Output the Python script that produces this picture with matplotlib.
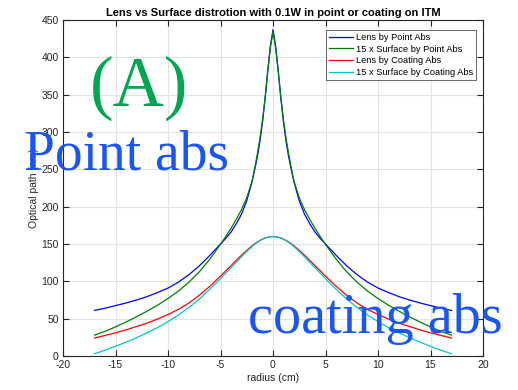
import numpy as np
import matplotlib.pyplot as plt

plt.rcParams['font.family'] = ['Liberation Sans', 'DejaVu Sans']
plt.rcParams['axes.unicode_minus'] = False

# radius samples (cm), one side of the profile, mirrored below
r_half = [0, 0.25, 0.5, 0.75, 1, 1.25, 1.5, 1.75, 2, 2.5, 3, 3.5, 4, 4.5, 5,
          6, 7, 8, 9, 10, 11, 12, 13, 14, 15, 16, 17]

# optical path (nm)
lens_point = [437, 415, 382, 345, 313, 287, 266, 249, 233, 208, 190, 177, 166, 157.5, 150,
              135, 121, 109, 99, 91, 85, 79.5, 75, 71, 67.5, 64, 61]
surf_point = [434, 413, 381, 346, 316, 291, 270, 251, 234, 212, 196, 183, 171, 160, 149.5,
              130, 113, 99, 87, 77, 68, 60, 52.5, 45.5, 39, 33, 28]
lens_coat = [160, 159.8, 159, 158, 156.5, 154.7, 152.5, 150.2, 147.5, 141.5, 135, 128, 121, 114, 107,
             93.5, 81.5, 71, 62.5, 55.5, 49.5, 44, 39.5, 35, 31, 27.5, 24]
surf_coat = [160, 159.8, 159, 158, 156.5, 154.5, 152, 149.5, 146.5, 140, 133, 125.5, 118, 111, 103.5,
             89.5, 76.5, 65, 55, 46, 38, 31, 24.5, 18.5, 13, 7.8, 3]

labels = ['Lens by Point Abs', '15 x Surface by Point Abs',
          'Lens by Coating Abs', '15 x Surface by Coating Abs']
colors = ['#0000ff', '#008000', '#ff0000', '#00c8c8']


def full(vals):
    v = np.array(vals, dtype=float)
    return np.concatenate([v[:0:-1], v])


r = np.array(r_half, dtype=float)
r = np.concatenate([-r[:0:-1], r])

fig = plt.figure(figsize=(5.18, 3.9), dpi=100)
ax = fig.add_axes([63/518, 34/390, 420/518, 336/390])

for vals, c, lab in zip([lens_point, surf_point, lens_coat, surf_coat], colors, labels):
    ax.plot(r, full(vals), color=c, lw=0.9, label=lab)

ax.set_xlim(-20, 20)
ax.set_ylim(0, 450)
ax.set_xticks(np.arange(-20, 21, 5))
ax.set_yticks(np.arange(0, 451, 50))
ax.grid(True, color='#e3e3e3', lw=0.8)
ax.set_axisbelow(True)
ax.tick_params(direction='in', top=True, right=True, labelsize=7.5,
               colors='#262626', length=4, width=0.8, pad=3)
for s in ax.spines.values():
    s.set_color('#262626')
    s.set_linewidth(0.8)

ax.set_title('Lens vs Surface distrotion with 0.1W in point or coating on ITM',
             fontsize=8, fontweight='bold', pad=3)
ax.set_xlabel('radius (cm)', fontsize=7.5, color='#262626', labelpad=2)
ax.set_ylabel('Optical path (nm)', fontsize=7.5, color='#262626', labelpad=2)

leg = ax.legend(loc='upper right', bbox_to_anchor=(476/518, 1 - 30/390),
                bbox_transform=fig.transFigure, borderaxespad=0,
                fontsize=6.7, frameon=True, fancybox=False,
                borderpad=0.3, labelspacing=0.3, handlelength=2.6,
                handletextpad=0.3)
leg.get_frame().set_edgecolor('#262626')
leg.get_frame().set_linewidth(0.6)

# big annotations on top of the plot
fig.text(90/518, 1 - 106/390, '(A)', fontsize=51, color='#00a651',
         family='Liberation Serif', va='baseline')
fig.text(24/518, 1 - 170/390, 'Point abs', fontsize=40, color='#1a56f5',
         family='Liberation Serif', va='baseline')
fig.text(248/518, 1 - 333/390, 'coating abs', fontsize=40.5, color='#1a56f5',
         family='Liberation Serif', va='baseline')

fig.savefig('out.png', dpi=100)
